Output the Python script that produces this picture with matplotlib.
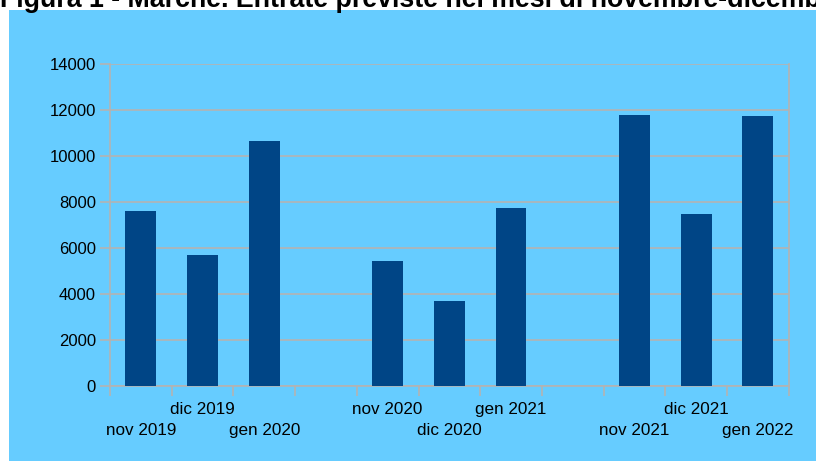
import numpy as np
import matplotlib
matplotlib.use("Agg")
import matplotlib.pyplot as plt
import matplotlib.transforms as mtransforms
from matplotlib.patches import Rectangle

# dati (celle vuote tra un anno e l'altro)
mesi = ['nov 2019', 'dic 2019', 'gen 2020', '',
        'nov 2020', 'dic 2020', 'gen 2021', '',
        'nov 2021', 'dic 2021', 'gen 2022']
entrate = [7610, 5700, 10650, np.nan,
           5440, 3700, 7750, np.nan,
           11780, 7480, 11740]
# riga dell'etichetta: 0 = in alto, 1 = in basso
riga = [1, 0, 1, 0, 0, 1, 0, 0, 1, 0, 1]

titolo = 'Figura 1 - Marche. Entrate previste nei mesi di novembre-dicembre 2021-gennaio 2022'

plt.rcParams['font.family'] = ['Liberation Sans', 'DejaVu Sans']

fig = plt.figure(figsize=(8.16, 4.61), dpi=100)
fig.patch.set_facecolor('white')
# sfondo azzurro del grafico
sfondo = Rectangle((9 / 816, 0), 1, (461 - 10) / 461,
                   transform=fig.transFigure, facecolor='#66ccff',
                   edgecolor='none', zorder=-5)
fig.add_artist(sfondo)

ax = fig.add_axes([110 / 816, 75 / 461, 678.7 / 816, 321.7 / 461])
ax.set_zorder(1)
ax.set_facecolor('#66ccff')

x = np.arange(len(mesi))
ax.bar(x, entrate, width=0.5, color='#004586', zorder=3)

ax.set_xlim(-0.5, len(mesi) - 0.5)
ax.set_ylim(0, 14000)
ax.set_yticks(np.arange(0, 14001, 2000))
ax.yaxis.grid(True, color='#b3b3b3', linewidth=1.2, zorder=1)
ax.tick_params(axis='y', length=7, width=1.2, color='#b3b3b3', labelsize=12, pad=3)

# tacche sui bordi delle categorie
ax.set_xticks(np.arange(-0.5, len(mesi), 1.0))
ax.set_xticklabels([])
ax.tick_params(axis='x', length=7, width=1.2, color='#b3b3b3')

for s in ['left', 'right', 'bottom']:
    ax.spines[s].set_color('#b3b3b3')
    ax.spines[s].set_linewidth(1.2)
ax.spines['top'].set_visible(False)

for i, lab in enumerate(mesi):
    if not lab:
        continue
    off = -17 if riga[i] == 0 else -32.3
    tr = mtransforms.offset_copy(ax.get_xaxis_transform(), fig=fig, y=off, units='points')
    ax.text(x[i], 0, lab, transform=tr, ha='center', va='center', fontsize=12.3)

fig.text(0.0, 1 - 7 / 461, titolo, fontsize=19.3, fontweight='bold',
         ha='left', va='baseline', family=['Liberation Sans Narrow', 'Liberation Sans', 'DejaVu Sans'])

fig.savefig('out.png', dpi=100, facecolor=fig.get_facecolor())
